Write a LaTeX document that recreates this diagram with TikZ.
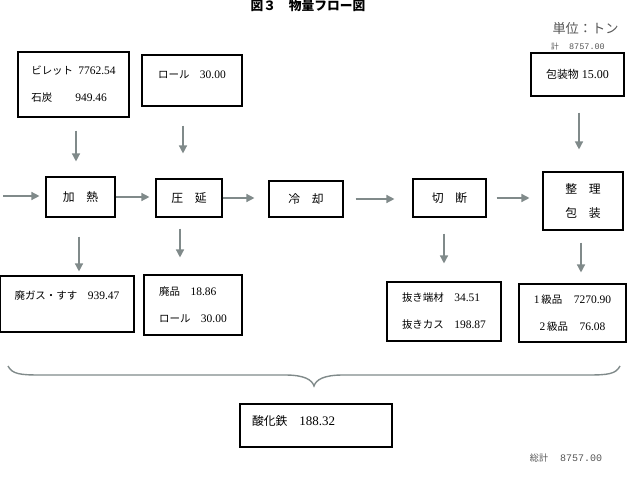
\documentclass[tikz,border=0pt]{standalone}
\usepackage{fontspec}
\setmainfont{Liberation Serif}
\setmonofont{Liberation Mono}
\newfontfamily\jpfont[Scale=0.91]{Noto Sans CJK JP}
\usetikzlibrary{arrows.meta}
\definecolor{flowgray}{RGB}{128,138,138}
\definecolor{notegray}{RGB}{85,85,85}

\begin{document}
\begin{tikzpicture}[x=1pt,y=-1pt,
  box/.style={draw,line width=1.1pt,inner sep=0pt,align=left,font=\fontsize{11.5}{27}\selectfont},
  stepbox/.style={box,align=center,font=\jpfont\fontsize{13}{24}\selectfont},
  flow/.style={flowgray,line width=1.4pt,-{Triangle[length=8pt,width=8pt]}}]
\useasboundingbox (0,0) rectangle (628,486);

\node[font=\jpfont\bfseries\fontsize{14}{16}\selectfont] (title) at (308,6) {図３　物量フロー図};
\node[anchor=east,text=notegray,font=\jpfont\fontsize{14.5}{16}\selectfont] (unit) at (622,28) {単位：トン};
\node[text=notegray,font=\ttfamily\fontsize{8.5}{10}\selectfont] (total) at (578,47) {{\jpfont 計}\ \ 8757.00};

\node[box,minimum width=111pt,minimum height=65pt] (billet) at (73.5,84.5)
  {\makebox[47pt][l]{\jpfont ビレット}7762.54\\\makebox[44pt][l]{\jpfont 石炭}949.46};
\node[box,minimum width=100pt,minimum height=51pt,text depth=12pt] (rollin) at (192,80.5)
  {{\jpfont ロール　}30.00};
\node[box,minimum width=93pt,minimum height=43pt,font=\fontsize{12}{14}\selectfont] (wrap) at (577.5,74.5)
  {{\jpfont 包装物}\ 15.00};

\node[stepbox,minimum width=69pt,minimum height=40pt] (heat) at (80.5,197) {加　熱};
\node[stepbox,minimum width=66pt,minimum height=38pt] (roll) at (189,198) {圧　延};
\node[stepbox,minimum width=74pt,minimum height=36pt] (cool) at (306,199) {冷　却};
\node[stepbox,minimum width=73pt,minimum height=38pt] (cut) at (449.5,198) {切　断};
\node[stepbox,minimum width=80pt,minimum height=58pt] (pack) at (583,201) {整　理\\包　装};

\node[box,minimum width=134pt,minimum height=56pt,text depth=17pt] (gas) at (67,304)
  {{\jpfont 廃ガス・すす　}939.47};
\node[box,minimum width=98pt,minimum height=60pt] (scrap) at (193,305)
  {{\jpfont 廃品　}18.86\\{\jpfont ロール　}30.00};
\node[box,minimum width=114pt,minimum height=59pt] (crop) at (444,311.5)
  {{\jpfont 抜き端材　}34.51\\{\jpfont 抜きカス　}198.87};
\node[box,align=center,minimum width=107pt,minimum height=58pt] (grade) at (572.5,313)
  {1\,{\jpfont 級品}\quad 7270.90\\2\,{\jpfont 級品}\quad 76.08};

\node[box,text width=128pt,inner xsep=12pt,minimum height=43pt,text depth=9pt,font=\fontsize{13}{15}\selectfont] (oxide) at (316,425.5)
  {{\jpfont 酸化鉄　}188.32};
\node[text=notegray,font=\ttfamily\fontsize{10}{12}\selectfont] (grand) at (566,458) {{\jpfont 総計}\ \ 8757.00};

\coordinate (in) at (3,196);
\coordinate (c1) at (76,0);
\coordinate (c2) at (183,0);
\coordinate (c3) at (579,0);
\coordinate (c4) at (79,0);
\coordinate (c5) at (180,0);
\coordinate (c6) at (444,0);
\coordinate (c7) at (581,0);

\draw[flow,shorten >=6pt] (in) -- (in -| heat.west);
\draw[flow,shorten >=6pt] (heat.east) -- (heat.east -| roll.west);
\draw[flow,shorten >=14pt] (roll.east) -- (roll.east -| cool.west);
\draw[flow,shorten <=12pt,shorten >=18pt] (cool.east) -- (cool.east -| cut.west);
\draw[flow,shorten <=10pt,shorten >=13pt] (cut.east) -- (cut.east -| pack.west);

\draw[flow,shorten <=13pt,shorten >=15pt] (billet.south -| c1) -- (heat.north -| c1);
\draw[flow,shorten <=19pt,shorten >=25pt] (rollin.south -| c2) -- (roll.north -| c2);
\draw[flow,shorten <=16pt,shorten >=22pt] (wrap.south -| c3) -- (pack.north -| c3);
\draw[flow,shorten <=19pt,shorten >=4pt] (heat.south -| c4) -- (gas.north -| c4);
\draw[flow,shorten <=11pt,shorten >=17pt] (roll.south -| c5) -- (scrap.north -| c5);
\draw[flow,shorten <=16pt,shorten >=18pt] (cut.south -| c6) -- (crop.north -| c6);
\draw[flow,shorten <=12pt,shorten >=11pt] (pack.south -| c7) -- (grade.north -| c7);

\draw[flowgray,line width=1.4pt] (8,366) .. controls (12,374) and (20,375) .. (40,375) -- (285,375)
  .. controls (305,375) and (312,380) .. (314,386) .. controls (316,380) and (323,375) .. (343,375)
  -- (588,375) .. controls (608,375) and (616,374) .. (620,366);
\end{tikzpicture}
\end{document}
